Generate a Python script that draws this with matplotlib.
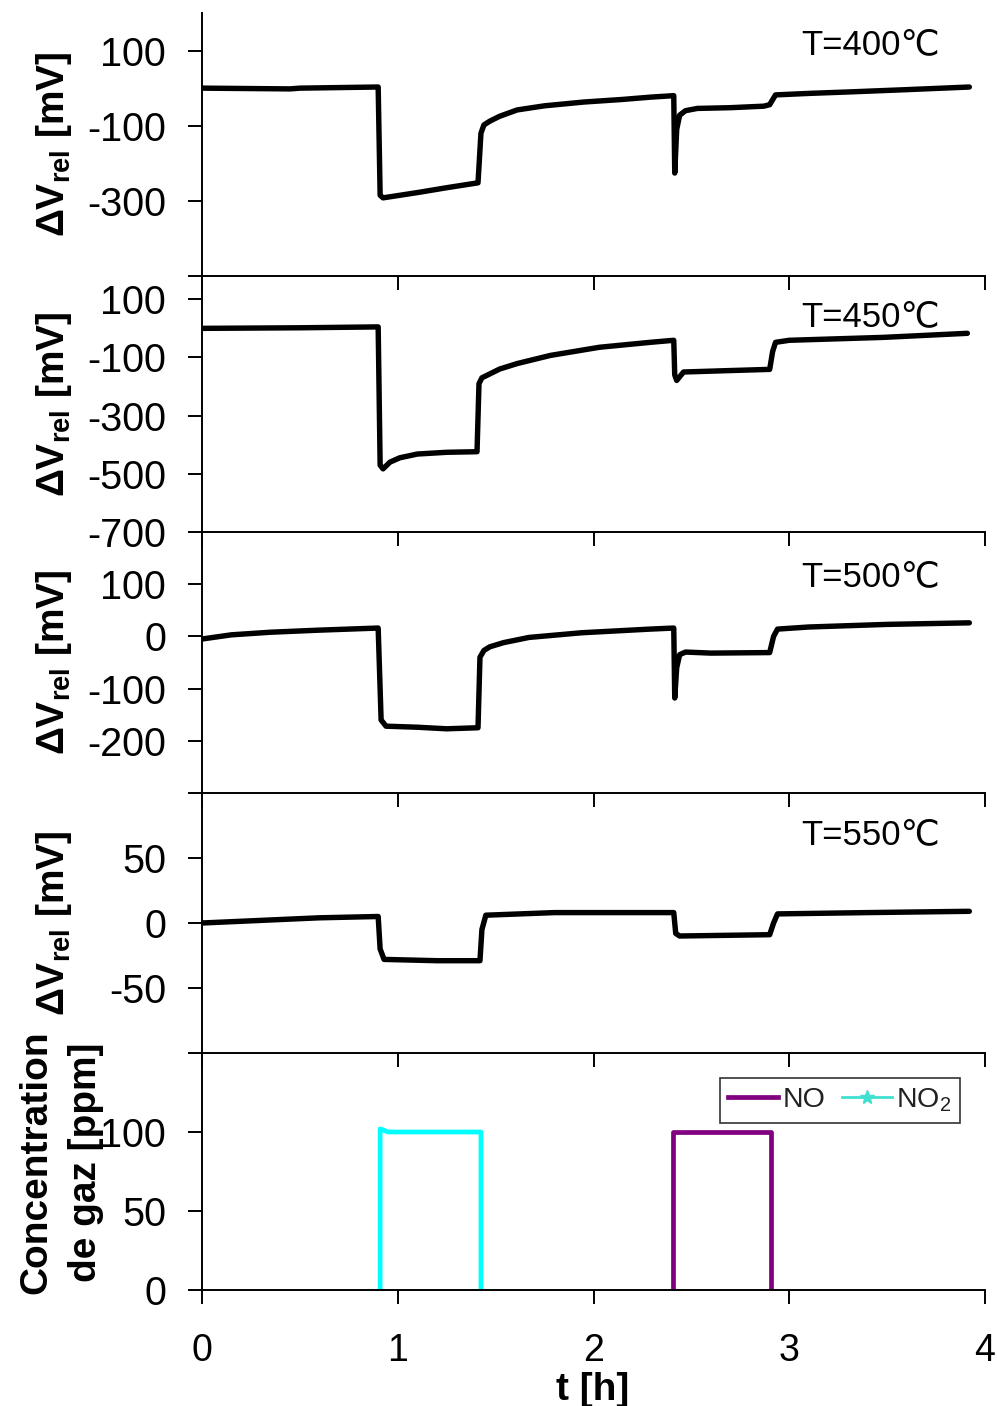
import matplotlib
matplotlib.use('Agg')
import matplotlib.pyplot as plt
from matplotlib.lines import Line2D

plt.rcParams['font.family'] = ['Liberation Sans', 'DejaVu Sans']
plt.rcParams['axes.unicode_minus'] = False
plt.rcParams['mathtext.fontset'] = 'custom'
plt.rcParams['mathtext.rm'] = 'Liberation Sans'
plt.rcParams['mathtext.bf'] = 'Liberation Sans:bold'

# --- données ---
t400 = [0, 0.45, 0.5, 0.9, 0.91, 0.925, 1.1, 1.25, 1.41, 1.425, 1.44, 1.47, 1.52, 1.61, 1.75, 1.95,
        2.15, 2.29, 2.41, 2.415, 2.425, 2.44, 2.47, 2.53, 2.7, 2.87, 2.9, 2.93, 3.1, 3.31, 3.6, 3.92]
v400 = [0, -2, 0, 3, -285, -292, -278, -265, -252, -120, -98, -88, -75, -58, -47, -37,
        -30, -24, -20, -226, -110, -72, -60, -54, -52, -48, -44, -18, -14, -10, -4, 3]

t450 = [0, 0.5, 0.9, 0.91, 0.925, 0.96, 1.01, 1.1, 1.25, 1.405, 1.415, 1.43, 1.46, 1.52, 1.61, 1.78,
        2.03, 2.29, 2.41, 2.415, 2.425, 2.46, 2.7, 2.9, 2.915, 2.93, 3.0, 3.48, 3.91]
v450 = [0, 2, 5, -470, -483, -460, -445, -432, -426, -424, -190, -170, -160, -140, -121, -93,
        -65, -48, -41, -160, -179, -150, -145, -141, -80, -48, -41, -31, -17]

t500 = [0, 0.15, 0.35, 0.6, 0.9, 0.915, 0.94, 1.1, 1.25, 1.41, 1.42, 1.44, 1.47, 1.54, 1.67, 1.94,
        2.29, 2.41, 2.415, 2.425, 2.44, 2.47, 2.6, 2.9, 2.92, 2.94, 3.1, 3.5, 3.92]
v500 = [-5, 3, 8, 12, 16, -160, -172, -174, -177, -175, -40, -27, -20, -12, -2, 7,
        14, 16, -118, -60, -35, -30, -32, -31, 0, 14, 18, 23, 26]

t550 = [0, 0.3, 0.6, 0.9, 0.91, 0.93, 1.2, 1.42, 1.43, 1.45, 1.8, 2.41, 2.42, 2.44, 2.9, 2.92,
        2.94, 3.4, 3.92]
v550 = [0, 2, 4, 5, -20, -28, -29, -29, -5, 6, 8, 8, -8, -10, -9, 0,
        7, 8, 9]

no2_t = [0.91, 0.91, 0.95, 1.425, 1.425]
no2_ppm = [0, 102, 100, 100, 0]
no_t = [2.405, 2.405, 2.905, 2.905]
no_ppm = [0, 100, 100, 0]

temperatures = ['T=400℃', 'T=450℃', 'T=500℃', 'T=550℃']
courbes = [(t400, v400), (t450, v450), (t500, v500), (t550, v550)]
limites = [(-500, 200), (-700, 180), (-300, 200), (-100, 100)]
graduations = [[-500, -300, -100, 100], [-700, -500, -300, -100, 100],
               [-300, -200, -100, 0, 100], [-100, -50, 0, 50]]
etiquettes = [['', '-300', '-100', '100'], ['-700', '-500', '-300', '-100', '100'],
              ['', '-200', '-100', '0', '100'], ['', '-50', '0', '50']]

# --- mise en page (pixels) ---
W, H = 997, 1406
bords = [13, 276, 532, 793, 1053, 1290]
pos_temp = [0.878, 0.843, 0.828, 0.838]

fig = plt.figure(figsize=(W / 100, H / 100), dpi=100)
fig.patch.set_facecolor('white')


def style(ax):
    ax.patch.set_alpha(0)
    for s in ['top', 'right']:
        ax.spines[s].set_visible(False)
    for s in ['left', 'bottom']:
        ax.spines[s].set_linewidth(1.4)
    ax.set_xlim(0, 4)
    ax.set_xticks([0, 1, 2, 3, 4])
    ax.tick_params(axis='both', direction='out', length=10, width=1.4)
    ax.tick_params(axis='y', labelsize=28.5, pad=16)
    ax.tick_params(axis='x', labelsize=27, pad=21)


axes = []
for i in range(5):
    top, bot = bords[i], bords[i + 1]
    ax = fig.add_axes([202 / W, 1 - bot / H, 783 / W, (bot - top) / H])
    style(ax)
    axes.append(ax)

for i in range(4):
    ax = axes[i]
    t, v = courbes[i]
    ax.plot(t, v, color='black', lw=3.9, solid_joinstyle='round', solid_capstyle='round')
    ax.set_ylim(*limites[i])
    ax.set_yticks(graduations[i])
    ax.set_yticklabels(etiquettes[i])
    ax.tick_params(axis='x', labelbottom=False)
    ax.text(0.765, pos_temp[i], temperatures[i], transform=ax.transAxes, fontsize=25,
            ha='left', va='center')
    yc = (bords[i] + bords[i + 1]) / 2
    fig.text(54 / W, 1 - yc / H, r'$\mathbf{\Delta V_{rel}}$ [mV]', rotation=90,
             ha='center', va='center', fontsize=28, fontweight='bold')

# Concentrations de gaz
ax = axes[4]
ax.plot(no_t, no_ppm, color='#800080', lw=3.4)
ax.plot(no2_t, no2_ppm, color='#00FFFF', lw=3.4)
ax.set_ylim(0, 150)
ax.set_yticks([0, 50, 100])
poignees = [Line2D([], [], color='#800080', lw=3.4),
            Line2D([], [], color='#40E0D0', lw=2, marker='*', markersize=10)]
leg = ax.legend(poignees, ['NO', 'NO$_2$'], loc='upper right', bbox_to_anchor=(0.968, 0.895),
                borderaxespad=0, ncol=2, fontsize=20.5, handlelength=1.75, handletextpad=0.15,
                columnspacing=0.6, borderpad=0.3, fancybox=False, framealpha=1)
leg.get_frame().set_edgecolor('#333333')
leg.get_frame().set_linewidth(1.2)
for txt in leg.get_texts():
    txt.set_color('#222222')

fig.text(61 / W, 1 - 1162 / H, 'Concentration\nde gaz [ppm]', rotation=90, ha='center',
         va='center', fontsize=28, fontweight='bold', multialignment='center', linespacing=1.5)
fig.text(593 / W, 1 - 1390 / H, 't [h]', ha='center', va='center', fontsize=28,
         fontweight='bold')

fig.savefig('out.png', dpi=100)
